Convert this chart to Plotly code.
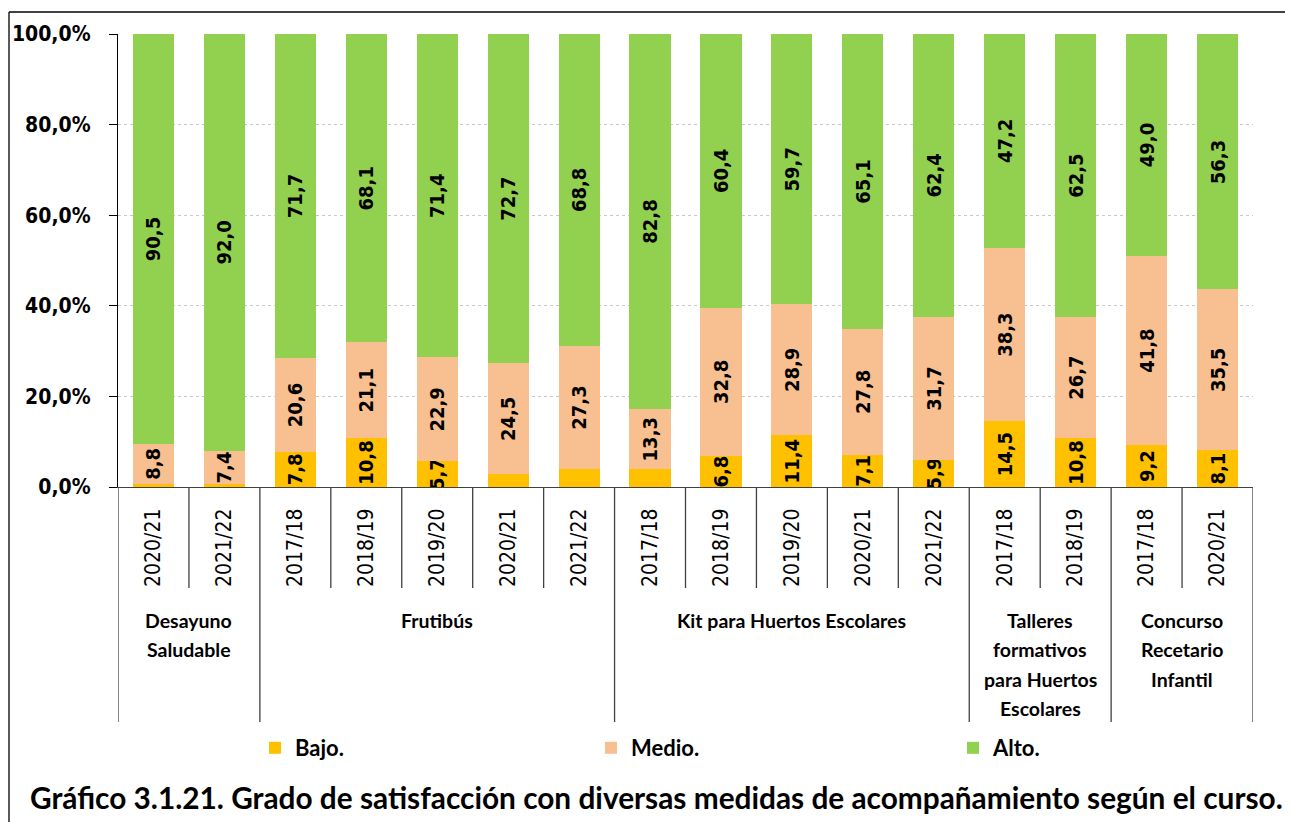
import plotly.graph_objects as go

# ---- data ----
group_lines = [["Desayuno", "Saludable"], ["Frutibús"], ["Kit para Huertos Escolares"],
               ["Talleres", "formativos", "para Huertos", "Escolares"],
               ["Concurso", "Recetario", "Infantil"]]
group_sizes = [2, 5, 5, 2, 2]
years = ["2020/21", "2021/22",
         "2017/18", "2018/19", "2019/20", "2020/21", "2021/22",
         "2017/18", "2018/19", "2019/20", "2020/21", "2021/22",
         "2017/18", "2018/19",
         "2017/18", "2020/21"]
bajo = [0.7, 0.6, 7.8, 10.8, 5.7, 2.8, 3.9, 3.9, 6.8, 11.4, 7.1, 5.9, 14.5, 10.8, 9.2, 8.1]
medio = [8.8, 7.4, 20.6, 21.1, 22.9, 24.5, 27.3, 13.3, 32.8, 28.9, 27.8, 31.7, 38.3, 26.7, 41.8, 35.5]
alto = [90.5, 92.0, 71.7, 68.1, 71.4, 72.7, 68.8, 82.8, 60.4, 59.7, 65.1, 62.4, 47.2, 62.5, 49.0, 56.3]
series = [("Bajo.", bajo, "#FFC000"), ("Medio.", medio, "#F8BF90"), ("Alto.", alto, "#92D050")]
title_text = "Gráfico 3.1.21. Grado de satisfacción con diversas medidas de acompañamiento según el curso."

# ---- geometry (screen pixels; page body has an 8px margin) ----
OFF = 8
SW, SH = 1293, 822
W, H = SW - OFF, SH - OFF
L, R, T, B = 118, 1253, 34, 487   # plot area on screen
PH = B - T
PW = R - L


def py(y):  # screen y -> paper y
    return (B - y) / PH


def px(x):  # screen x -> paper x
    return (x - L) / PW


def fmt(v):
    return f"{v:.1f}".replace(".", ",")


legend_ids = ["legend", "legend2", "legend3"]
legend_x = [255, 591, 953]

xs = list(range(len(years)))
fig = go.Figure()
for (name, vals, col), lid in zip(series, legend_ids):
    fig.add_trace(go.Bar(
        x=xs, y=[v / 100 for v in vals], name=name, legend=lid,
        marker=dict(color=col, line=dict(width=0)),
        width=0.58,
        text=[fmt(v) if v >= 5 else "" for v in vals],
        textposition="inside", insidetextanchor="middle", textangle=-90,
        constraintext="none",
        textfont=dict(family="DejaVu Sans Condensed, DejaVu Sans", size=20, color="black", weight="bold"),
        hoverinfo="skip",
    ))

shapes = []
n = len(years)
bounds = [0]
for s in group_sizes:
    bounds.append(bounds[-1] + s)
for i in range(n + 1):
    y1 = py(722) if i in bounds else py(588)
    shapes.append(dict(type="line", xref="x", yref="paper", x0=i - 0.5, x1=i - 0.5,
                       y0=0, y1=y1, line=dict(color="#404040", width=1.3)))
# outer frame
shapes.append(dict(type="line", xref="paper", yref="paper", x0=px(9), x1=px(9),
                   y0=py(12), y1=py(830), line=dict(color="black", width=1.3)))
shapes.append(dict(type="line", xref="paper", yref="paper", x0=px(9), x1=px(1300),
                   y0=py(12), y1=py(12), line=dict(color="black", width=1.3)))

annotations = []
for gi, lines in enumerate(group_lines):
    cx = (bounds[gi] + bounds[gi + 1] - 1) / 2
    for li, line in enumerate(lines):
        annotations.append(dict(xref="x", yref="paper", x=cx, y=py(620 + li * 29.5),
                                text=line, showarrow=False, xanchor="center", yanchor="middle",
                                font=dict(family="Lato", size=19.5, color="black", weight="bold")))
annotations.append(dict(xref="paper", yref="paper", x=px(656), y=py(797),
                        text=title_text, showarrow=False, xanchor="center", yanchor="middle",
                        font=dict(family="Lato", size=29.8, color="black", weight="bold")))

legend_common = dict(orientation="h", xanchor="left", yanchor="middle", y=py(748),
                     bgcolor="rgba(0,0,0,0)",
                     font=dict(family="Lato", size=22, color="black", weight="bold"))
layout_legends = {}
for lid, lx in zip(legend_ids, legend_x):
    layout_legends[lid] = dict(legend_common, x=px(lx))

fig.update_layout(
    width=W, height=H,
    margin=dict(l=L - OFF, r=W - (R - OFF), t=T - OFF, b=H - (B - OFF), autoexpand=False),
    paper_bgcolor="white", plot_bgcolor="white",
    barmode="stack", separators=",.",
    showlegend=True,
    shapes=shapes, annotations=annotations,
    xaxis=dict(range=[-0.5, n - 0.5], tickmode="array", tickvals=xs, ticktext=years,
               tickangle=-90, ticks="", showgrid=False, showline=True, linecolor="#404040",
               linewidth=1.3, ticklabelstandoff=12, automargin=False,
               tickfont=dict(family="DejaVu Sans Condensed, DejaVu Sans", size=21, color="black")),
    yaxis=dict(range=[0, 1], tickvals=[0, 0.2, 0.4, 0.6, 0.8, 1.0], tickformat=".1%",
               showgrid=True, gridcolor="#c8c8c8", griddash="dot", gridwidth=1,
               showline=True, linecolor="black", linewidth=1.3, ticks="outside", ticklen=8,
               tickcolor="black", zeroline=False, ticklabelstandoff=14, automargin=False,
               tickfont=dict(family="DejaVu Sans Condensed, DejaVu Sans", size=21, color="black", weight="bold")),
    **layout_legends,
)
fig.write_html("out.html")
